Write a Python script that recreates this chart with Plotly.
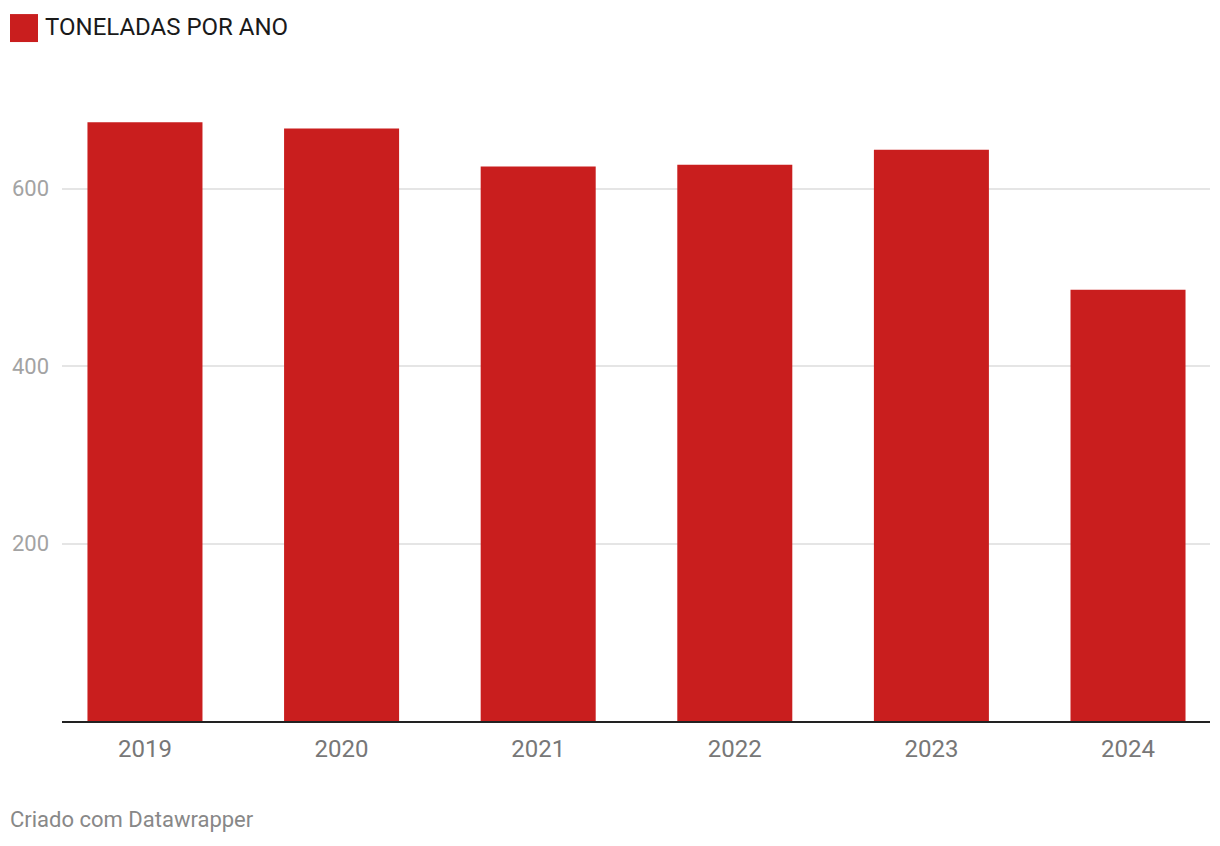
import plotly.graph_objects as go

years = ["2019", "2020", "2021", "2022", "2023", "2024"]
toneladas = [675, 668, 625, 627, 644, 486]
y_ticks = [200, 400, 600]
legend_label = "TONELADAS POR ANO"
footer = "Criado com Datawrapper"

RED = "#c91e1e"
FONT = "Roboto"

fig = go.Figure(go.Bar(
    x=years, y=toneladas, marker=dict(color=RED, line=dict(width=0)),
    hoverinfo="x+y",
))

fig.update_layout(
    width=1220, height=846,
    margin=dict(l=62, r=10, t=100, b=124.5),
    paper_bgcolor="white", plot_bgcolor="white",
    bargap=0.415,
    showlegend=False,
    font=dict(family=FONT),
    xaxis=dict(
        type="category", range=[-0.422, 5.417],
        showgrid=False, showline=True, linecolor="#222", linewidth=2,
        ticks="", tickfont=dict(family=FONT, size=24, color="#777"),
        ticklabelstandoff=5,
    ),
    yaxis=dict(
        range=[0, 700], tickvals=y_ticks,
        showgrid=True, gridcolor="#e5e5e5", gridwidth=1.5,
        zeroline=False, showline=False, ticks="",
        tickfont=dict(family=FONT, size=22, color="#a3a3a3"),
        ticklabelstandoff=12,
    ),
    shapes=[dict(type="rect", xref="paper", yref="paper",
                 x0=-52/1148, x1=-24/1148,
                 y0=1 + (100 - 42) / 621.5, y1=1 + (100 - 14) / 621.5,
                 fillcolor=RED, line=dict(width=0))],
    annotations=[
        dict(text=legend_label, xref="paper", yref="paper",
             x=-19/1148, y=1 + (100 - 27) / 621.5, xanchor="left", yanchor="middle",
             showarrow=False, font=dict(family=FONT, size=24, color="#1a1a1a")),
        dict(text=footer, xref="paper", yref="paper",
             x=-54/1148, y=-(820 - 721.5) / 621.5, xanchor="left", yanchor="middle",
             showarrow=False, font=dict(family=FONT, size=22, color="#888")),
    ],
)

fig.write_html("out.html")
